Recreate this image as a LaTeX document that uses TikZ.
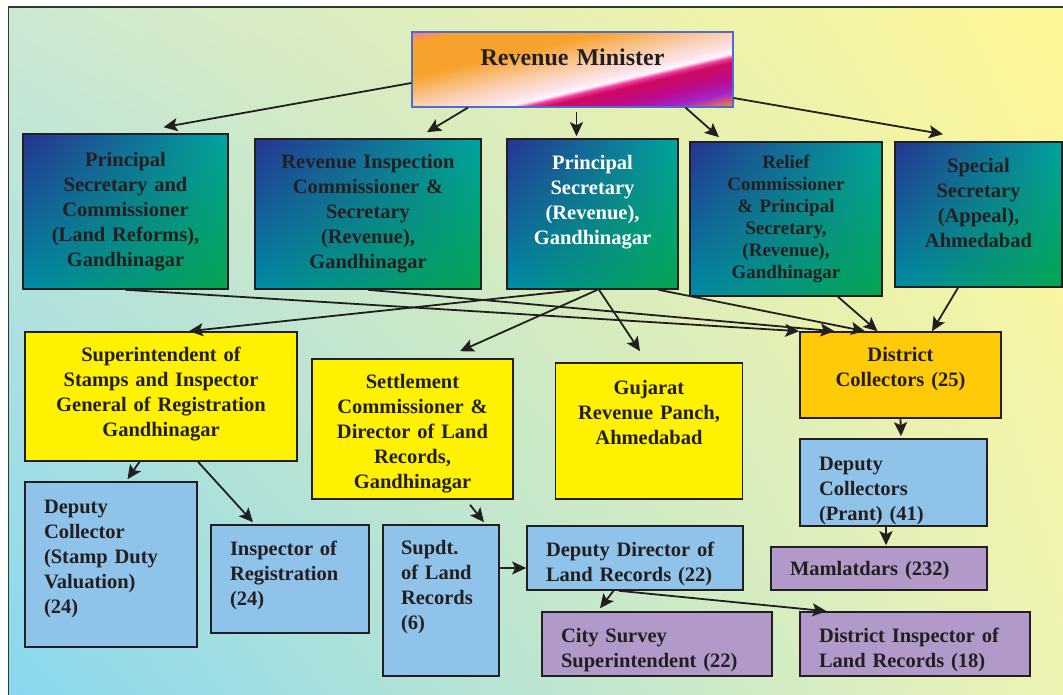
\documentclass[tikz,border=0pt]{standalone}
\usepackage{fontspec}
\setmainfont{Liberation Serif}
\usetikzlibrary{arrows.meta,shadings}

\definecolor{ink}{RGB}{35,31,32}
\definecolor{frameline}{RGB}{45,60,45}
\definecolor{bgUL}{RGB}{205,232,210}
\definecolor{bgUR}{RGB}{255,247,150}
\definecolor{bgLL}{RGB}{135,215,240}
\definecolor{bgLR}{RGB}{238,243,180}
\definecolor{tealUL}{RGB}{38,52,145}
\definecolor{tealUR}{RGB}{0,165,160}
\definecolor{tealLL}{RGB}{0,140,165}
\definecolor{tealLR}{RGB}{5,165,80}
\definecolor{boxyellow}{RGB}{255,242,0}
\definecolor{boxorange}{RGB}{255,202,8}
\definecolor{boxblue}{RGB}{143,195,234}
\definecolor{boxlilac}{RGB}{177,153,201}
\definecolor{minline}{RGB}{80,110,200}
\definecolor{minStreak}{RGB}{240,120,170}
\definecolor{minOr}{RGB}{247,162,45}
\definecolor{minPeach}{RGB}{250,208,180}
\definecolor{minPk}{RGB}{252,226,230}
\definecolor{minWh}{RGB}{255,246,252}
\definecolor{minHot}{RGB}{240,60,160}
\definecolor{minMg}{RGB}{205,10,95}
\definecolor{minMg2}{RGB}{190,10,140}
\definecolor{minPu}{RGB}{160,35,200}
\definecolor{minCorner}{RGB}{240,140,60}
\pgfdeclarehorizontalshading{revmin}{100bp}{color(0bp)=(minStreak); color(38.9bp)=(minStreak); color(40.3bp)=(minOr); color(45.5bp)=(minOr); color(50bp)=(minPeach); color(52.1bp)=(minPk); color(53.2bp)=(minWh); color(53.8bp)=(minHot); color(54.5bp)=(minMg); color(56.8bp)=(minMg2); color(58.8bp)=(minPu); color(61.1bp)=(minCorner); color(100bp)=(minCorner)}

\begin{document}
\begin{tikzpicture}[x=1pt, y=-1pt, >={Stealth[length=14pt,width=13pt,inset=3pt]},
    box/.style={draw=ink, line width=1.6pt, inner ysep=2pt, text=ink,
      font=\bfseries\fontsize{20.5}{25}\selectfont},
    tealbox/.style={box, shade, upper left=tealUL, upper right=tealUR,
      lower left=tealLL, lower right=tealLR, align=center, inner xsep=4pt},
    yellowbox/.style={box, fill=boxyellow, align=center, inner xsep=4pt},
    bluebox/.style={box, fill=boxblue, align=left, inner xsep=19pt},
    lilacbox/.style={box, fill=boxlilac, align=left, inner xsep=19pt},
    link/.style={->, line width=1.8pt, draw=ink}]
        \useasboundingbox (0,0) rectangle (1063,695);
        \fill[white] (0,0) rectangle (1063,695);
        \shade[upper left=bgUL, upper right=bgUR, lower left=bgLL, lower right=bgLR] (8.6,7.3) rectangle (1063,695);
        \draw[frameline, line width=1.6pt] (8.6,695) -- (8.6,7.3) -- (1063,7.3);

        % top
        \node[box, draw=minline, line width=1.2pt,
          path picture={\shade[shading=revmin, shading angle=-76.7]
            ([shift={(-165pt,-165pt)}]path picture bounding box.center) rectangle
            ([shift={(165pt,165pt)}]path picture bounding box.center);},
          text width=313pt, align=center, inner xsep=4pt, minimum width=321pt, minimum height=75pt,
          font=\bfseries\fontsize{24}{28}\selectfont] (minister) at (572.5,69.5) {Revenue Minister\par\vspace*{25pt}};

        \node[tealbox, text width=197pt, minimum width=205pt, minimum height=155pt] (ps1) at (125.5,211.5) {Principal\\Secretary and\\Commissioner\\(Land Reforms),\\Gandhinagar};
        \node[tealbox, text width=218pt, minimum width=226pt, minimum height=150pt] (ric) at (368,214) {Revenue Inspection\\Commissioner \&\\Secretary\\(Revenue),\\Gandhinagar};
        \node[tealbox, text=white, text width=163pt, minimum width=171pt, minimum height=150pt] (psr) at (592.5,214) {Principal\\Secretary\\(Revenue),\\Gandhinagar\par\vspace*{24pt}};
        \node[tealbox, text width=184pt, minimum width=192pt, minimum height=154pt, font=\bfseries\fontsize{19}{22}\selectfont] (relief) at (786,219) {Relief\\Commissioner\\\& Principal\\Secretary,\\(Revenue),\\Gandhinagar};
        \node[tealbox, text width=159pt, minimum width=167pt, minimum height=145pt] (special) at (978.5,214.5) {Special\\Secretary\\(Appeal),\\Ahmedabad\par\vspace*{24pt}};

        % middle
        \node[yellowbox, text width=264pt, minimum width=272pt, minimum height=129pt] (supt) at (161,396.5) {Superintendent of\\Stamps and Inspector\\General of Registration\\Gandhinagar\par\vspace*{4pt}};
        \node[yellowbox, text width=193pt, minimum width=201pt, minimum height=140pt] (settle) at (412.5,429) {Settlement\\Commissioner \&\\Director of Land\\Records,\\Gandhinagar\par\vspace*{-10pt}};
        \node[yellowbox, text width=179pt, minimum width=187pt, minimum height=136pt] (panch) at (649,431) {Gujarat\\Revenue Panch,\\Ahmedabad\par\vspace*{38pt}};
        \node[yellowbox, fill=boxorange, text width=193pt, minimum width=201pt, minimum height=86pt] (dcoll) at (900.5,375) {District\\Collectors (25)\par\vspace*{11pt}};

        % bottom
        \node[bluebox, text width=134pt, minimum width=172pt, minimum height=165pt] (dcstamp) at (111,564.5) {Deputy\\Collector\\(Stamp Duty\\Valuation)\\(24)\par\vspace*{12pt}};
        \node[bluebox, text width=120pt, minimum width=158pt, minimum height=108pt] (insreg) at (290,579) {Inspector of\\Registration\\(24)\par\vspace*{8pt}};
        \node[bluebox, text width=80pt, inner xsep=18pt, minimum width=116pt, minimum height=151pt] (supdt) at (441,600.5) {Supdt.\\of Land\\Records\\(6)\par\vspace*{26pt}};
        \node[bluebox, text width=178pt, minimum width=216pt, minimum height=64pt] (ddlr) at (635,558) {Deputy Director of\\Land Records (22)\par\vspace*{-12pt}};
        \node[bluebox, text width=149pt, minimum width=187pt, minimum height=87pt] (dcprant) at (893.5,482.5) {Deputy\\Collectors\\(Prant) (41)\par\vspace*{-16pt}};
        \node[lilacbox, text width=178pt, minimum width=216pt, minimum height=43pt] (mam) at (879,568.5) {Mamlatdars (232)\par\vspace*{-8pt}};
        \node[lilacbox, text width=192pt, minimum width=230pt, minimum height=64pt] (city) at (657,644) {City Survey\\Superintendent (22)\par\vspace*{-12pt}};
        \node[lilacbox, text width=192pt, minimum width=230pt, minimum height=64pt] (dilr) at (915,644) {District Inspector of\\Land Records (18)\par\vspace*{-12pt}};

        \draw[link] ([yshift=-13.5pt]minister.west) -- ([xshift=38pt,yshift=6pt]ps1.north);
        \draw[link] ([xshift=-104.5pt]minister.south) -- ([xshift=59pt,yshift=6pt]ric.north);
        \draw[link] ([xshift=4pt,yshift=-4pt]minister.south) -- ([xshift=-16pt,yshift=2pt]psr.north);
        \draw[link] ([xshift=113pt]minister.south) -- ([xshift=-67pt,yshift=4pt]relief.north);
        \draw[link] ([yshift=-28.5pt]minister.east) -- ([xshift=-35.5pt,yshift=7pt]special.north);

        \draw[link] (ps1.south) -- (dcoll.north west);
        \draw[link] (ric.south) -- ([xshift=-66pt]dcoll.north);
        \draw[link] ([xshift=66pt]psr.south) -- ([xshift=-35.5pt]dcoll.north);
        \draw[link] ([xshift=52pt]relief.south) -- ([xshift=-23pt]dcoll.north);
        \draw[link] ([xshift=-20.5pt]special.south) -- ([xshift=31.5pt]dcoll.north);
        \draw[link] ([xshift=-13pt]psr.south) -- ([xshift=28pt]supt.north);
        \draw[link] ([xshift=5pt]psr.south) -- ([xshift=47.5pt,yshift=7pt]settle.north);
        \draw[link] ([xshift=6.5pt]psr.south) -- ([xshift=-9pt,yshift=11pt]panch.north);

        \draw[link] ([xshift=-21.5pt]supt.south) -- ([xshift=16.5pt,yshift=2pt]dcstamp.north);
        \draw[link] ([xshift=37pt]supt.south) -- ([xshift=-37pt,yshift=2pt]insreg.north);
        \draw[link] ([xshift=57.5pt,yshift=-5pt]settle.south) -- ([xshift=43pt,yshift=2pt]supdt.north);
        \draw[link] ([yshift=32.5pt]supdt.east) -- ([yshift=-10pt]ddlr.west);
        \draw[link] ([xshift=-21.5pt]ddlr.south) -- ([xshift=-57pt,yshift=3pt]city.north);
        \draw[link] ([xshift=-16pt]ddlr.south) -- ([xshift=-88.5pt]dilr.north);
        \draw[link] (dcoll.south) -- ([xshift=7.5pt,yshift=2pt]dcprant.north);
        \draw[link] ([xshift=-7.5pt]dcprant.south) -- ([xshift=7pt,yshift=1pt]mam.north);
    \end{tikzpicture}
\end{document}
